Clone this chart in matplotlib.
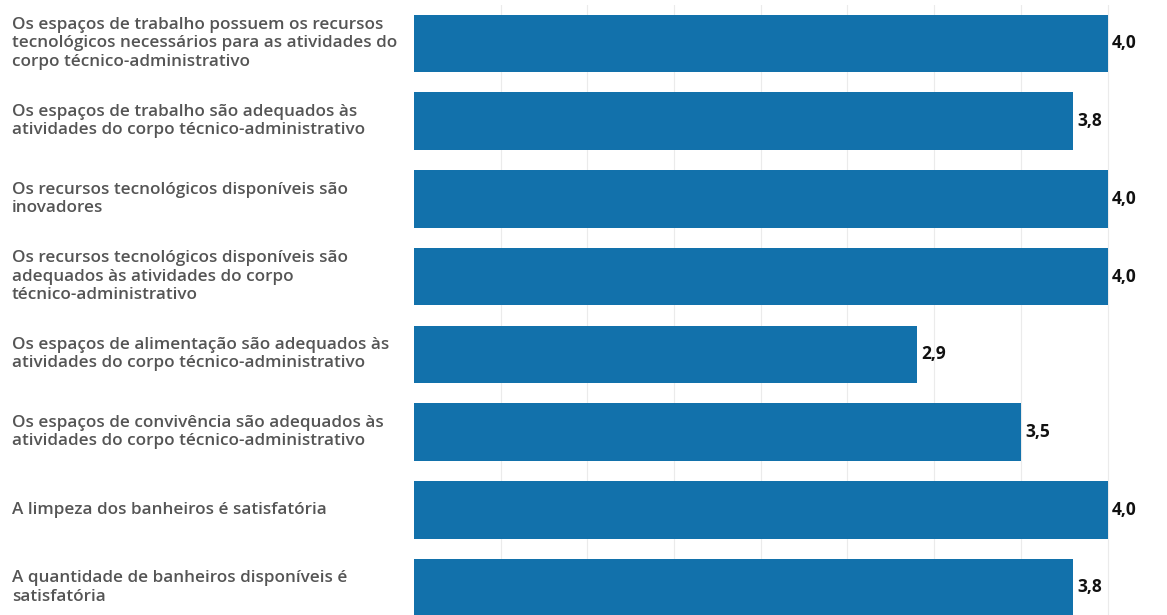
import matplotlib
matplotlib.use("Agg")
import matplotlib.pyplot as plt
from matplotlib.transforms import blended_transform_factory

categories = [
    "Os espaços de trabalho possuem os recursos\ntecnológicos necessários para as atividades do\ncorpo técnico-administrativo",
    "Os espaços de trabalho são adequados às\natividades do corpo técnico-administrativo",
    "Os recursos tecnológicos disponíveis são\ninovadores",
    "Os recursos tecnológicos disponíveis são\nadequados às atividades do corpo\ntécnico-administrativo",
    "Os espaços de alimentação são adequados às\natividades do corpo técnico-administrativo",
    "Os espaços de convivência são adequados às\natividades do corpo técnico-administrativo",
    "A limpeza dos banheiros é satisfatória",
    "A quantidade de banheiros disponíveis é\nsatisfatória",
]
values = [4.0, 3.8, 4.0, 4.0, 2.9, 3.5, 4.0, 3.8]
grid_ticks = [0.5, 1.0, 1.5, 2.0, 2.5, 3.0, 3.5, 4.0]

BAR_COLOR = "#1271ab"
LABEL_COLOR = "#555555"
GRID_COLOR = "#ebebeb"

W, H = 1167, 615
fig = plt.figure(figsize=(W / 100, H / 100), dpi=100)
ax = fig.add_axes([414 / W, 0.0, 1 - 414 / W, 1 - 5 / H])

ypos = list(range(len(categories)))
ax.barh(ypos, values, height=0.74, color=BAR_COLOR, zorder=2)

ax.set_xlim(0, 4.343)
ax.set_ylim(7.354, -0.495)

ax.set_xticks(grid_ticks)
ax.set_yticks([])
ax.tick_params(axis="x", length=0, labelbottom=False)
ax.grid(axis="x", color=GRID_COLOR, linewidth=0.8, zorder=0)
for s in ax.spines.values():
    s.set_visible(False)

# category labels at the left edge of the figure, centred on each bar
trans = blended_transform_factory(fig.transFigure, ax.transData)
for y, label in zip(ypos, categories):
    ax.text(12 / W, y, label, transform=trans, ha="left", va="center",
            fontsize=12.3, family="Open Sans", fontweight="semibold",
            color=LABEL_COLOR, linespacing=1.18, clip_on=False)

# value labels after each bar
for y, v in zip(ypos, values):
    ax.annotate(f"{v:.1f}".replace(".", ","), xy=(v, y), xytext=(3, 0),
                textcoords="offset points", ha="left", va="center",
                fontsize=12.5, family="Open Sans", fontweight="bold",
                color="#111111", annotation_clip=False)

fig.savefig("out.png", dpi=100)
